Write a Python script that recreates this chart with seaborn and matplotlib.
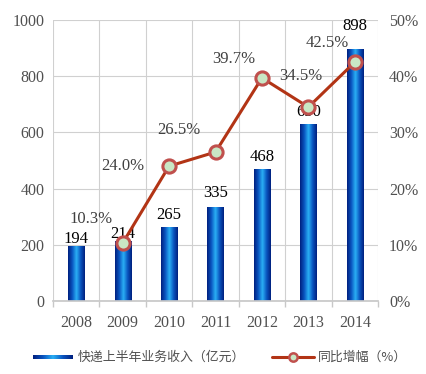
import numpy as np
import pandas as pd
import matplotlib
matplotlib.use("Agg")
import matplotlib.pyplot as plt
import seaborn as sns
from matplotlib.colors import LinearSegmentedColormap

years = ["2008", "2009", "2010", "2011", "2012", "2013", "2014"]
revenue = [194, 214, 265, 335, 468, 630, 898]
growth_years = ["2009", "2010", "2011", "2012", "2013", "2014"]
growth = [10.3, 24.0, 26.5, 39.7, 34.5, 42.5]
bar_label = "快递上半年业务收入（亿元）"
line_label = "同比增幅（%）"

# layout-only offsets (pixels) for data labels
bar_lab_dy = [-1, -1, 4, 6, 4, 4, 15]
pct_lab_off = [(-32, 24), (-46, 0), (-37, 22), (-28, 19), (-8, 31), (-28, 19)]

sns.set_theme(style="white")
plt.rcParams['font.family'] = ['Liberation Serif', 'DejaVu Serif']

fig = plt.figure(figsize=(4.26, 3.74), dpi=100)
ax = fig.add_axes([53/426, 1 - 301/374, 325/426, 281/374])

df = pd.DataFrame({"year": years, "revenue": revenue})
sns.barplot(data=df, x="year", y="revenue", ax=ax, width=0.35,
            color="#0a3a9a", saturation=1, edgecolor="none")

cols = ["#00207f", "#0a55c0", "#2ab0f5", "#0a55c0", "#00207f"]
cmap = LinearSegmentedColormap.from_list("bar", cols)
grad = np.linspace(0, 1, 64).reshape(1, -1)
for p in list(ax.patches):
    x0, y0, w, h = p.get_x(), p.get_y(), p.get_width(), p.get_height()
    im = ax.imshow(grad, cmap=cmap, aspect="auto", extent=[x0, x0 + w, y0, y0 + h],
                   zorder=2)
    im.set_clip_path(p)
    p.set_facecolor("none")

ax.set_xlim(-0.5, 6.5)
ax.set_ylim(0, 1000)
ax.set_yticks(range(0, 1001, 200))
ax.set_xticks(np.arange(-0.5, 7, 1), minor=True)
ax.grid(False)
ax.yaxis.grid(True, color="#d0d0d0", lw=0.8)
ax.xaxis.grid(True, which="minor", color="#d0d0d0", lw=0.8)
ax.set_axisbelow(True)
for s in ax.spines.values():
    s.set_visible(False)
ax.spines["bottom"].set_visible(True)
ax.spines["bottom"].set_color("#c8c8c8")
ax.tick_params(axis="x", which="major", length=0, pad=10, labelsize=11.5, labelcolor="#505050")
ax.tick_params(axis="x", which="minor", length=4, color="#c8c8c8", bottom=True)
ax.tick_params(axis="y", length=0, pad=6, labelsize=11.5, labelcolor="#505050")
ax.set_xlabel("")
ax.set_ylabel("")

for i, v in enumerate(revenue):
    ax.annotate(str(v), (i, v), xytext=(0, bar_lab_dy[i]), textcoords="offset pixels",
                ha="center", va="bottom", fontsize=12, color="black", zorder=5)

ax2 = ax.twinx()
gx = [years.index(y) for y in growth_years]
gdf = pd.DataFrame({"x": gx, "g": growth})
sns.lineplot(data=gdf, x="x", y="g", ax=ax2, color="#b23415", lw=2.2,
             marker="o", markersize=9.5, markerfacecolor="#c9e7c5",
             markeredgecolor="#c0504d", markeredgewidth=2.2, zorder=4)
ax2.set_ylim(0, 50)
ax2.set_yticks(range(0, 51, 10))
ax2.set_yticklabels([f"{t}%" for t in range(0, 51, 10)])
ax2.tick_params(axis="y", length=0, pad=8, labelsize=11.5, labelcolor="#505050")
ax2.set_xlim(-0.5, 6.5)
ax2.set_xlabel("")
ax2.set_ylabel("")
ax2.grid(False)
for s in ax2.spines.values():
    s.set_visible(False)

for (x, g), (dx, dy) in zip(zip(gx, growth), pct_lab_off):
    ax2.annotate(f"{g:.1f}%", (x, g), xytext=(dx, dy), textcoords="offset pixels",
                 ha="center", va="center", fontsize=12, color="#404040", zorder=6)

# legend
cjk = ['Noto Sans CJK SC', 'DejaVu Sans']
lax = fig.add_axes([0, 0, 1, 1], facecolor="none")
lax.axis("off")
lax.imshow(grad, cmap=cmap, aspect="auto", extent=[33, 73, 359, 355])
lax.set_xlim(0, 426)
lax.set_ylim(374, 0)
lax.text(78, 357, bar_label, fontsize=9.3, color="#505050", va="center", ha="left", family=cjk)
lax.plot([272, 314], [357, 357], color="#b23415", lw=2.2)
lax.plot([293], [357], marker="o", markersize=6, markerfacecolor="#c9e7c5",
         markeredgecolor="#c0504d", markeredgewidth=1.8)
lax.text(318, 357, line_label, fontsize=9.3, color="#505050", va="center", ha="left", family=cjk)

fig.savefig("out.png", dpi=100)
